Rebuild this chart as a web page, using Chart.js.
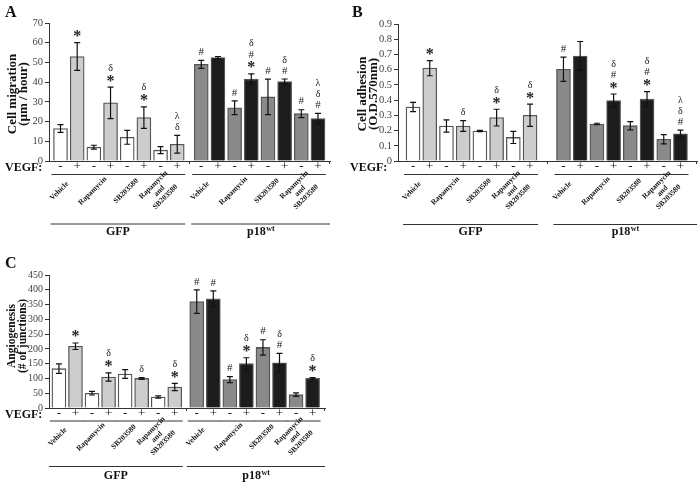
<!DOCTYPE html>
<html><head><meta charset="utf-8">
<script src="https://cdn.jsdelivr.net/npm/chart.js@4.4.0/dist/chart.umd.min.js"></script>
<style>
html,body{margin:0;padding:0;background:#fff;width:698px;height:482px;overflow:hidden;position:relative;}
canvas{position:absolute;}
</style></head><body>
<canvas id="cA" width="349" height="272" style="left:0;top:0;width:349px;height:272px"></canvas>
<canvas id="cB" width="349" height="272" style="left:349px;top:0;width:349px;height:272px"></canvas>
<canvas id="cC" width="349" height="232" style="left:0;top:250px;width:349px;height:232px"></canvas>
<script>
// ---------- data ----------
const treatments = ["Vehicle", "Rapamycin", "SB203580", "Rapamycin\nand\nSB203580"];
const cellLines = ["GFP", "p18"];           // second one is p18 wt
const vegfLevels = ["-", "+"];

const migration    = [16.5, 53, 7, 29.5, 12, 22, 5.5, 8.5,   49, 52.5, 27, 41.5, 32.5, 40.3, 24, 21.5];
const migrationErr = [2, 7, 1, 8, 3.5, 5.5, 1.8, 4.5,        2, 0.5, 3.5, 2.7, 9, 1.3, 2, 2.7];
const migrationSig = ["", "*", "", "δ*", "", "δ*", "", "λδ", "#", "", "#", "δ#*", "#", "δ#", "#", "λδ#"];
const migrationTicks = [0, 10, 20, 30, 40, 50, 60, 70];

const adhesion    = [0.355, 0.61, 0.23, 0.23, 0.197, 0.285, 0.155, 0.3,   0.603, 0.69, 0.243, 0.397, 0.232, 0.406, 0.143, 0.178];
const adhesionErr = [0.03, 0.05, 0.04, 0.035, 0.004, 0.055, 0.04, 0.073,  0.08, 0.095, 0.005, 0.043, 0.027, 0.05, 0.03, 0.025];
const adhesionSig = ["", "*", "", "δ", "", "δ*", "", "δ*", "#", "", "", "δ#*", "", "δ#*", "", "λδ#"];
const adhesionTicks = [0, 0.1, 0.2, 0.3, 0.4, 0.5, 0.6, 0.7, 0.8, 0.9];

const angiogenesis    = [133, 209, 50, 105, 115, 100, 37, 71,   360, 369, 96, 150, 205, 153, 45, 100];
const angiogenesisErr = [16, 11, 6, 14, 15, 3, 4, 12,          40, 27, 10, 20, 26, 32, 6, 3];
const angiogenesisSig = ["", "*", "", "δ*", "", "δ", "", "δ*", "#", "#", "#", "δ*", "#", "δ#", "", "δ*"];
const angiogenesisTicks = [0, 50, 100, 150, 200, 250, 300, 350, 400, 450];

// ---------- styling ----------
const SERIF = "'Liberation Serif', 'Times New Roman', serif";
const barFill = [["#ffffff", "#cdcdcd"], ["#8a8a8a", "#1c1c1c"]];

const panels = [
  { id: "cA", letter: "A", letterPos: [5, 17], values: migration, errors: migrationErr, sig: migrationSig, ticks: migrationTicks,
    title: ["Cell migration", "(µm / hour)"], titleX: [12.5, 23.5], titleY: 94, titleSize: 13, tickSize: 10.5,
    pad: { top: 23, right: 19, bottom: 111, left: 0 }, xMin: -0.69, xMax: 16.16, gap: 0.44,
    vegfX: 5, vegfY: 168, pairY: 174, labY: 191, grpY: 223.5, grpTY: 232 },
  { id: "cB", letter: "B", letterPos: [3, 17], values: adhesion, errors: adhesionErr, sig: adhesionSig, ticks: adhesionTicks,
    title: ["Cell adhesion", "(O.D.570nm)"], titleX: [14, 25], titleY: 94, titleSize: 13, tickSize: 10.5,
    pad: { top: 24, right: 1, bottom: 111, left: 0 }, xMin: -0.9, xMax: 16.99, gap: 1.0,
    vegfX: 1, vegfY: 168, pairY: 174, labY: 191, grpY: 224, grpTY: 232 },
  { id: "cC", letter: "C", letterPos: [5, 18], values: angiogenesis, errors: angiogenesisErr, sig: angiogenesisSig, ticks: angiogenesisTicks,
    title: ["Angiogenesis", "(# of junctions)"], titleX: [12.5, 23], titleY: 86, titleSize: 11.5, tickSize: 10,
    pad: { top: 25, right: 24, bottom: 74, left: 0 }, xMin: -0.6, xMax: 16.08, gap: 0.33,
    vegfX: 5, vegfY: 165, pairY: 170.5, labY: 187, grpY: 216, grpTY: 226 }
];

// vertical offset (fraction of font size) from glyph centre to alphabetic baseline
const glyphMid = { "*": 0.47, "#": 0.34, "δ": 0.36, "λ": 0.35, "-": 0.25, "+": 0.25 };
function centeredText(ctx, ch, x, cy, size) {
  ctx.textAlign = "center"; ctx.textBaseline = "alphabetic";
  ctx.fillText(ch, x, cy + (glyphMid[ch] || 0.35) * size);
}

const panelPlugin = {
  id: "panelDeco",
  afterDatasetsDraw(chart) {
    const p = chart.options.plugins.panelDeco;
    const ctx = chart.ctx;
    const ys = chart.scales.y;
    const meta = chart.getDatasetMeta(0);
    const bars = meta.data;
    ctx.save();
    // error bars
    ctx.strokeStyle = "#111"; ctx.lineWidth = 1.2;
    bars.forEach((bar, i) => {
      const v = p.values[i], e = p.errors[i];
      const yt = ys.getPixelForValue(v + e), yb = ys.getPixelForValue(Math.max(v - e, 0));
      ctx.beginPath();
      ctx.moveTo(bar.x, yt); ctx.lineTo(bar.x, yb);
      ctx.moveTo(bar.x - 3, yt); ctx.lineTo(bar.x + 3, yt);
      ctx.moveTo(bar.x - 3, yb); ctx.lineTo(bar.x + 3, yb);
      ctx.stroke();
      // significance symbols, stacked upward
      const chars = Array.from(p.sig[i]);
      const n = chars.length;
      chars.forEach((c, k) => {
        const cy = yt - 9 - (n - 1 - k) * 11;
        ctx.fillStyle = "#222";
        let size;
        if (c === "*") { size = 16; ctx.font = "bold 16px " + SERIF; }
        else if (c === "#") { size = 11; ctx.font = "11px " + SERIF; }
        else { size = 10; ctx.font = "10px " + SERIF; }
        centeredText(ctx, c, bar.x, cy, size);
      });
    });
    // small ticks on x axis
    ctx.strokeStyle = "#333"; ctx.lineWidth = 1;
    const axY = chart.chartArea.bottom;
    const midGap = (bars[7].x + bars[8].x) / 2;
    ctx.beginPath();
    ctx.moveTo(Math.round(midGap) + 0.5, axY); ctx.lineTo(Math.round(midGap) + 0.5, axY + 3);
    ctx.moveTo(chart.chartArea.right - 0.5, axY); ctx.lineTo(chart.chartArea.right - 0.5, axY + 3);
    ctx.stroke();

    // VEGF row
    ctx.fillStyle = "#111";
    ctx.font = "bold 12px " + SERIF;
    ctx.textAlign = "left"; ctx.textBaseline = "middle";
    ctx.fillText("VEGF:", p.vegfX, p.vegfY);
    ctx.font = "13px " + SERIF;
    bars.forEach((bar, i) => { centeredText(ctx, vegfLevels[i % 2], bar.x, p.vegfY - 1, 13); });
    // pair underlines and treatment labels
    for (let j = 0; j < 8; j++) {
      const b0 = bars[2 * j], b1 = bars[2 * j + 1];
      ctx.beginPath();
      ctx.moveTo(b0.x - 9, p.pairY + 0.5); ctx.lineTo(b1.x + 8, p.pairY + 0.5);
      ctx.stroke();
      const label = treatments[j % 4];
      const lines = label.split("\n");
      const cx = (b0.x + b1.x) / 2 - 9.5;
      ctx.save();
      ctx.translate(cx, p.labY);
      ctx.rotate(-Math.PI / 4);
      ctx.font = "bold 7.5px " + SERIF;
      ctx.textAlign = "center"; ctx.textBaseline = "middle";
      const lh = 8.5;
      lines.forEach((l, k) => ctx.fillText(l, 0, (k - (lines.length - 1) / 2) * lh));
      ctx.restore();
    }
    // group lines and names
    const groups = [[0, 7], [8, 15]];
    groups.forEach((g, gi) => {
      const xl = bars[g[0]].x - 10, xr = gi === 0 ? bars[g[1]].x + 8 : chart.chartArea.right;
      ctx.beginPath();
      ctx.moveTo(xl, p.grpY + 0.5); ctx.lineTo(xr, p.grpY + 0.5);
      ctx.stroke();
      const cx = (xl + xr) / 2;
      ctx.font = "bold 12px " + SERIF;
      ctx.textBaseline = "middle";
      if (gi === 0) {
        ctx.textAlign = "center";
        ctx.fillText(cellLines[0], cx, p.grpTY);
      } else {
        const main = cellLines[1], sup = "wt";
        const w1 = ctx.measureText(main).width;
        ctx.font = "bold 8px " + SERIF;
        const w2 = ctx.measureText(sup).width;
        const x0 = cx - (w1 + w2) / 2;
        ctx.font = "bold 12px " + SERIF;
        ctx.textAlign = "left";
        ctx.fillText(main, x0, p.grpTY);
        ctx.font = "bold 8px " + SERIF;
        ctx.fillText(sup, x0 + w1 + 0.5, p.grpTY - 3);
      }
    });
    // y title
    ctx.font = "bold " + p.titleSize + "px " + SERIF;
    ctx.textAlign = "center"; ctx.textBaseline = "middle";
    p.title.forEach((t, k) => {
      ctx.save();
      ctx.translate(p.titleX[k], p.titleY);
      ctx.rotate(-Math.PI / 2);
      ctx.fillText(t, 0, 0);
      ctx.restore();
    });
    // panel letter
    ctx.font = "bold 16px " + SERIF;
    ctx.textAlign = "left"; ctx.textBaseline = "alphabetic";
    ctx.fillText(p.letter, p.letterPos[0], p.letterPos[1]);
    ctx.restore();
  }
};

panels.forEach(p => {
  const data = p.values.map((v, i) => ({ x: i + (i >= 8 ? p.gap : 0), y: v }));
  const colors = p.values.map((v, i) => barFill[i >= 8 ? 1 : 0][i % 2]);
  new Chart(document.getElementById(p.id), {
    type: "bar",
    data: { datasets: [{ data, backgroundColor: colors, borderColor: "#555", borderWidth: 1.3, barThickness: 14 }] },
    options: {
      responsive: false, animation: false, devicePixelRatio: 1,
      layout: { padding: p.pad },
      plugins: { legend: { display: false }, tooltip: { enabled: false },
        panelDeco: { values: p.values, errors: p.errors, sig: p.sig, title: p.title, titleX: p.titleX, titleY: p.titleY,
          titleSize: p.titleSize, letter: p.letter, letterPos: p.letterPos, vegfX: p.vegfX, vegfY: p.vegfY,
          pairY: p.pairY, labY: p.labY, grpY: p.grpY, grpTY: p.grpTY } },
      scales: {
        x: { type: "linear", min: p.xMin, max: p.xMax, offset: false,
          ticks: { display: false }, grid: { display: false, offset: false },
          border: { display: true, color: "#333", width: 1 },
          afterFit: s => { s.height = 0; } },
        y: { type: "linear", min: p.ticks[0], max: p.ticks[p.ticks.length - 1],
          afterBuildTicks: s => { s.ticks = p.ticks.map(v => ({ value: v })); },
          afterFit: s => { s.width = 49; },
          ticks: { autoSkip: false, font: { family: SERIF, size: p.tickSize }, color: "#444", padding: 2, callback: v => String(v) },
          grid: { display: true, drawOnChartArea: false, drawTicks: true, tickLength: 4, color: "#333", lineWidth: 1 },
          border: { display: true, color: "#333", width: 1 } }
      }
    },
    plugins: [panelPlugin]
  });
});
</script>
</body></html>
